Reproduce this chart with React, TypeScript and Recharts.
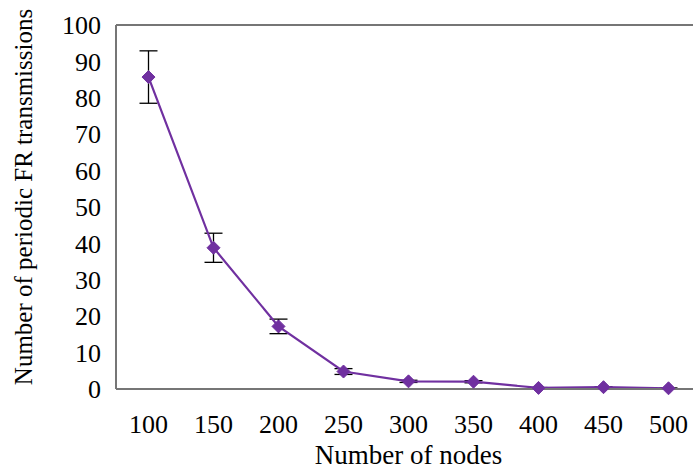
import { LineChart, Line, XAxis, YAxis, ErrorBar, ReferenceLine } from 'recharts';

const nodes = [100, 150, 200, 250, 300, 350, 400, 450, 500];
const frTransmissions = [85.7, 38.8, 17.2, 4.8, 2.1, 2.0, 0.3, 0.5, 0.2];
const frError = [7.2, 4.0, 2.0, 0.8, 0.3, 0.3, 0.1, 0.1, 0.1];
const yTicks = [0, 10, 20, 30, 40, 50, 60, 70, 80, 90, 100];
// inward tick marks on the x axis sit between the categories
const xBoundaryTicks = [125, 175, 225, 275, 325, 375, 425, 475];

const data = nodes.map((n, i) => ({ nodes: n, fr: frTransmissions[i], err: frError[i] }));

const PURPLE = '#7030A0';
const AXIS = '#767676';
const FONT = '"Liberation Serif", "Times New Roman", serif';

const Diamond = (props: any) => {
  const { cx, cy } = props;
  if (cx == null || cy == null) return null;
  const r = 6.5;
  return (
    <polygon
      points={`${cx},${cy - r} ${cx + r},${cy} ${cx},${cy + r} ${cx - r},${cy}`}
      fill={PURPLE}
      stroke={PURPLE}
      strokeWidth={1}
    />
  );
};

const YTitle = (props: any) => {
  const vb = props.viewBox || {};
  const cx = 15;
  const cy = (vb.y ?? 0) + (vb.height ?? 0) / 2 - 10;
  return (
    <text
      x={cx}
      y={cy}
      transform={`rotate(-90, ${cx}, ${cy})`}
      textAnchor="middle"
      dominantBaseline="central"
      fontFamily={FONT}
      fontSize={25}
      fill="#000"
    >
      Number of periodic FR transmissions
    </text>
  );
};

export default function App() {
  return (
    <div style={{ position: 'fixed', left: 8, top: 8, width: 685, height: 461, overflow: 'hidden', background: '#fff' }}>
      <LineChart width={693} height={461} data={data} margin={{ top: 17, right: 0, bottom: 0, left: 0 }}>
        <XAxis
          xAxisId="ticks"
          type="number"
          dataKey="nodes"
          domain={[75, 525]}
          ticks={xBoundaryTicks}
          mirror
          height={0}
          tick={false}
          axisLine={false}
          tickSize={8}
          tickLine={{ stroke: '#000', strokeWidth: 1.2 }}
        />
        <XAxis
          type="number"
          dataKey="nodes"
          domain={[75, 525]}
          ticks={nodes}
          height={80}
          tickLine={false}
          tickSize={6}
          tickMargin={20}
          axisLine={{ stroke: AXIS, strokeWidth: 2 }}
          tick={{ fill: '#000', fontSize: 26, fontFamily: FONT }}
          label={{
            value: 'Number of nodes',
            position: 'insideBottom',
            offset: 5,
            style: { fill: '#000', fontSize: 27, fontFamily: FONT },
          }}
        />
        <YAxis
          yAxisId="ticks"
          type="number"
          domain={[0, 100]}
          ticks={yTicks}
          mirror
          width={0}
          tick={false}
          axisLine={false}
          tickSize={9}
          tickLine={{ stroke: '#000', strokeWidth: 1.2 }}
        />
        <YAxis
          type="number"
          domain={[0, 100]}
          ticks={yTicks}
          width={108}
          tickLine={false}
          tickSize={6}
          tickMargin={9}
          axisLine={{ stroke: AXIS, strokeWidth: 2 }}
          tick={{ fill: '#000', fontSize: 26, fontFamily: FONT }}
          label={{ content: <YTitle /> }}
        />
        <ReferenceLine y={100} stroke={AXIS} strokeWidth={2} />
        <Line
          type="linear"
          dataKey="fr"
          stroke={PURPLE}
          strokeWidth={2.2}
          dot={<Diamond />}
          activeDot={false}
          isAnimationActive={false}
        >
          <ErrorBar dataKey="err" width={9} stroke="#000" strokeWidth={1.3} direction="y" isAnimationActive={false} />
        </Line>
      </LineChart>
    </div>
  );
}
